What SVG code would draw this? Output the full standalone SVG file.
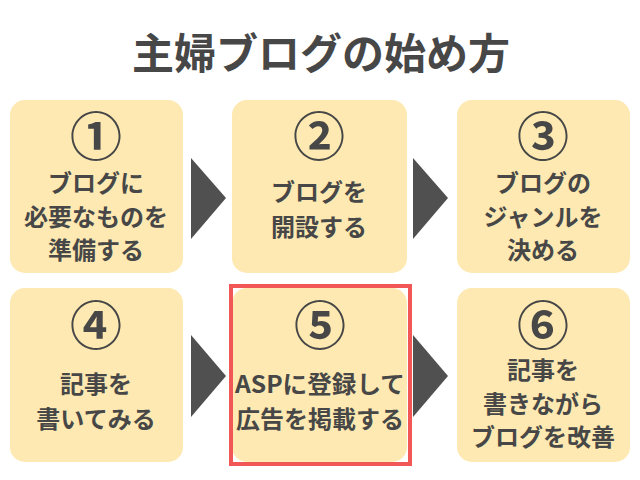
<svg xmlns="http://www.w3.org/2000/svg" width="640" height="480" viewBox="0 0 640 480">
<style>
.box{fill:#fde9b1}
.t{font-family:"Noto Sans CJK JP","Noto Sans",sans-serif;font-weight:bold;fill:#474747;text-anchor:middle;dominant-baseline:central}
.lbl{font-size:24px}
.num{font-size:52px}
.arrow{fill:#505050}
</style>
<rect width="640" height="480" fill="#ffffff"/>
<text class="t" x="321" y="50" font-size="42" fill="#333">主婦ブログの始め方</text>
<g id="connectors">
<polygon class="arrow" points="191,158 226,198 191,239"/>
<polygon class="arrow" points="413,158 448,198 413,239"/>
<polygon class="arrow" points="191,335 226,376 191,417"/>
<polygon class="arrow" points="413,335 448,376 413,417"/>
</g>
<g id="n1">
<rect class="box" x="10" y="100" width="173" height="173" rx="15"/>
<text class="t num" x="96" y="133">①</text>
<text class="t lbl" x="96" y="181">ブログに</text>
<text class="t lbl" x="96" y="215">必要なものを</text>
<text class="t lbl" x="96" y="248">準備する</text>
</g>
<g id="n2">
<rect class="box" x="232" y="100" width="175" height="173" rx="15"/>
<text class="t num" x="319" y="133">②</text>
<text class="t lbl" x="319" y="190">ブログを</text>
<text class="t lbl" x="319" y="225">開設する</text>
</g>
<g id="n3">
<rect class="box" x="457" y="100" width="173" height="173" rx="15"/>
<text class="t num" x="543" y="133">③</text>
<text class="t lbl" x="543" y="181">ブログの</text>
<text class="t lbl" x="543" y="215">ジャンルを</text>
<text class="t lbl" x="543" y="248">決める</text>
</g>
<g id="n4">
<rect class="box" x="10" y="288" width="173" height="174" rx="15"/>
<text class="t num" x="96" y="322">④</text>
<text class="t lbl" x="96" y="382">記事を</text>
<text class="t lbl" x="96" y="417">書いてみる</text>
</g>
<g id="n5">
<rect class="box" x="232" y="288" width="175" height="174" rx="15"/>
<rect x="231" y="286" width="179" height="178" fill="none" stroke="#f15757" stroke-width="4"/>
<text class="t num" x="320" y="322">⑤</text>
<text class="t lbl" x="320" y="382" textLength="170" lengthAdjust="spacingAndGlyphs">ASPに登録して</text>
<text class="t lbl" x="320" y="417">広告を掲載する</text>
</g>
<g id="n6">
<rect class="box" x="457" y="288" width="173" height="174" rx="15"/>
<text class="t num" x="543" y="322">⑥</text>
<text class="t lbl" x="543" y="368">記事を</text>
<text class="t lbl" x="543" y="402">書きながら</text>
<text class="t lbl" x="543" y="435">ブログを改善</text>
</g>
</svg>
